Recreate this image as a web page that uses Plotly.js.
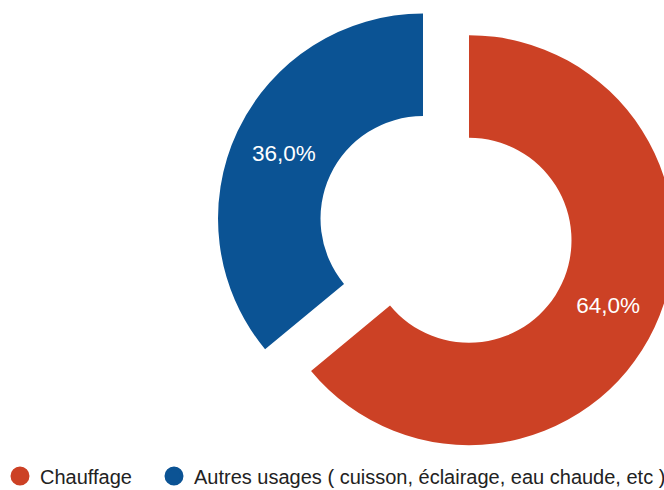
<!DOCTYPE html>
<html>
<head>
<meta charset="utf-8">
<script src="https://cdn.plot.ly/plotly-3.0.1.min.js"></script>
<style>
html, body { margin: 0; padding: 0; overflow: hidden; background: #ffffff; }
#chart { width: 680px; height: 490px; position: relative; top: -1px; }
</style>
</head>
<body>
<div id="chart"></div>
<script>
const categories = ["Chauffage", "Autres usages ( cuisson, éclairage, eau chaude, etc )"];
const values = [64.0, 36.0];
const colors = ["#cc4125", "#0b5394"];

const pieTrace = {
  type: "pie",
  labels: categories,
  values: values,
  sort: false,
  direction: "clockwise",
  rotation: 0,
  hole: 0.5,
  pull: [0.124, 0.124],
  marker: { colors: colors, line: { width: 0 } },
  texttemplate: "%{percent:.1%}",
  textposition: "inside",
  insidetextorientation: "horizontal",
  insidetextfont: { color: "#ffffff", size: 22.5, family: "Arial, 'Liberation Sans', sans-serif" },
  showlegend: false,
  hoverinfo: "none",
  domain: { x: [215.6 / 680, 676.4 / 680], y: [1 - 460.8 / 490, 1] }
};

const legendTraces = categories.map((c, i) => ({
  type: "scatter",
  mode: "markers",
  x: [null],
  y: [null],
  name: c,
  legendwidth: i === 0 ? 109 : undefined,
  marker: { color: colors[i], size: 16, symbol: "circle", line: { color: colors[i], width: 3 } },
  showlegend: true,
  hoverinfo: "none"
}));

const layout = {
  width: 680,
  height: 490,
  margin: { l: 0, r: 0, t: 0, b: 0, autoexpand: false },
  paper_bgcolor: "#ffffff",
  plot_bgcolor: "#ffffff",
  separators: ", ",
  font: { family: "Arial, 'Liberation Sans', sans-serif", color: "#222222" },
  xaxis: { visible: false },
  yaxis: { visible: false },
  showlegend: true,
  legend: {
    orientation: "h",
    x: 0,
    xanchor: "left",
    y: 13 / 490,
    yanchor: "middle",
    font: { size: 20, color: "#222222" },
    itemclick: false,
    itemdoubleclick: false
  }
};

Plotly.newPlot("chart", [pieTrace].concat(legendTraces), layout, { staticPlot: true, displayModeBar: false });
</script>
</body>
</html>
